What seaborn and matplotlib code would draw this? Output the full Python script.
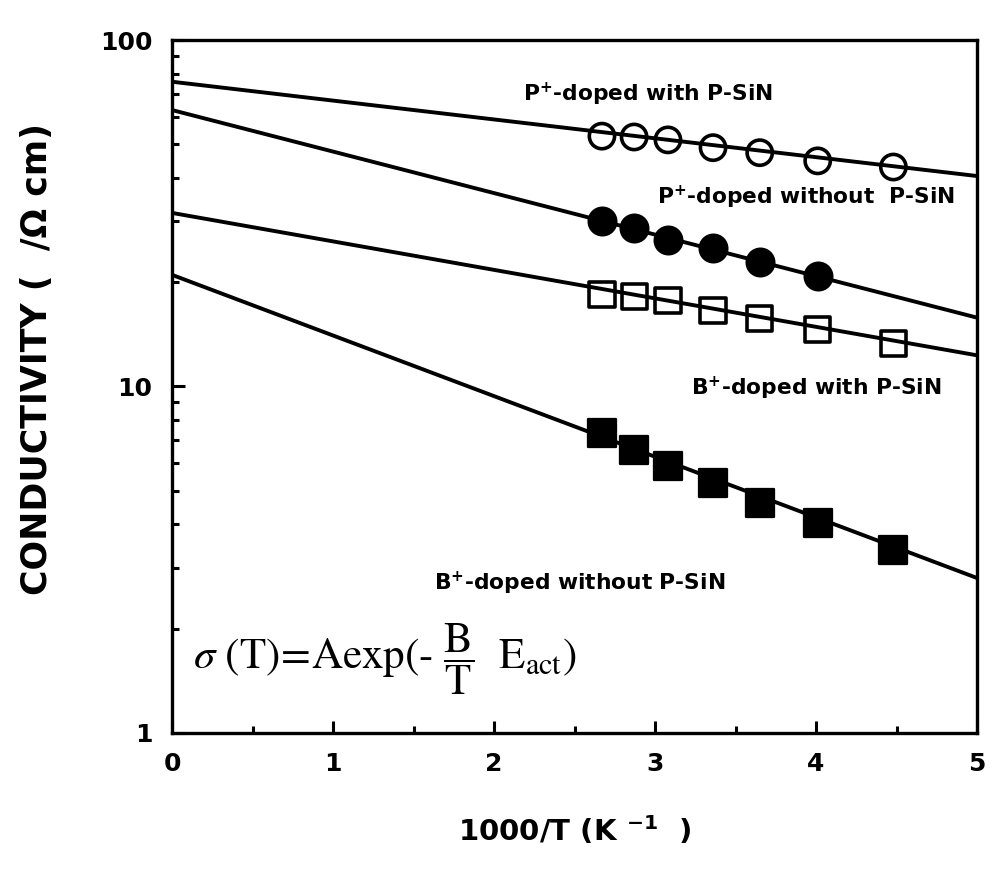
import numpy as np
import pandas as pd
import matplotlib
matplotlib.use('Agg')
import matplotlib.pyplot as plt
import seaborn as sns
from matplotlib.ticker import MultipleLocator, LogLocator, NullFormatter

# measured points (1000/T, conductivity)
inv_t = [2.67, 2.87, 3.08, 3.36, 3.65, 4.01, 4.48]
p_with = [52.8, 52.5, 51.5, 48.9, 47.3, 44.8, 43.0]
p_without = [30.1, 28.6, 26.5, 25.1, 22.8, 20.8]
b_with = [18.4, 18.2, 17.7, 16.6, 15.7, 14.6, 13.3]
b_without = [7.34, 6.56, 5.9, 5.27, 4.61, 4.04, 3.37]

# fitted lines, ends at 1000/T = 0 and 5
fit_x = [0, 5]
fit_p_with = [75.8, 40.5]
fit_p_without = [62.8, 15.8]
fit_b_with = [31.7, 12.3]
fit_b_without = [21.0, 2.8]

sns.set_style('ticks')
plt.rcParams['font.family'] = ['DejaVu Sans']
for k in ['text.color', 'axes.labelcolor', 'xtick.color', 'ytick.color', 'axes.edgecolor']:
    plt.rcParams[k] = 'black'

fig = plt.figure(figsize=(9.92, 8.82), dpi=100)
ax = fig.add_axes([0.1734, 0.169, 0.8116, 0.7856])

fits = pd.concat([
    pd.DataFrame({'x': fit_x, 'y': fit_p_with, 's': 'a'}),
    pd.DataFrame({'x': fit_x, 'y': fit_p_without, 's': 'b'}),
    pd.DataFrame({'x': fit_x, 'y': fit_b_with, 's': 'c'}),
    pd.DataFrame({'x': fit_x, 'y': fit_b_without, 's': 'd'}),
])
sns.lineplot(data=fits, x='x', y='y', units='s', estimator=None, color='black',
             linewidth=2.8, ax=ax, legend=False)

sns.scatterplot(x=inv_t, y=p_with, marker='o', s=330, facecolor='none',
                edgecolor='black', linewidth=2.6, ax=ax, zorder=3)
sns.scatterplot(x=inv_t[:len(p_without)], y=p_without, marker='o', s=400,
                color='black', edgecolor='black', ax=ax, zorder=3)
sns.scatterplot(x=inv_t, y=b_with, marker='s', s=330, facecolor='none',
                edgecolor='black', linewidth=2.6, ax=ax, zorder=3)
sns.scatterplot(x=inv_t, y=b_without, marker='s', s=420, color='black',
                edgecolor='black', ax=ax, zorder=3)

ax.set_yscale('log')
ax.set_xlim(0, 5)
ax.set_ylim(1, 100)

ax.xaxis.set_major_locator(MultipleLocator(1))
ax.xaxis.set_minor_locator(MultipleLocator(0.5))
ax.yaxis.set_minor_locator(LogLocator(base=10, subs=np.arange(2, 10)))
ax.yaxis.set_minor_formatter(NullFormatter())
ax.set_yticks([1, 10, 100])
ax.set_yticklabels(['1', '10', '100'])

ax.tick_params(which='both', direction='in', top=False, right=False, width=2.2,
               labelsize=18, pad=14)
ax.tick_params(which='major', length=9)
ax.tick_params(which='minor', length=5)
for lbl in ax.get_xticklabels() + ax.get_yticklabels():
    lbl.set_fontweight('bold')
for sp in ax.spines.values():
    sp.set_linewidth(2.4)
    sp.set_visible(True)

ax.set_xlabel(r'1000/T (K $^{\mathbf{-1}}$  )', fontsize=21, fontweight='bold', labelpad=27)
ax.set_ylabel('CONDUCTIVITY (  /Ω cm)', fontsize=25, fontweight='bold')
ax.yaxis.set_label_coords(-0.147, 0.54)

lab_kw = dict(fontsize=15.7, fontweight='bold', va='center', ha='left')
ax.text(2.18, 69.5, r'P$^{\mathbf{+}}$-doped with P-SiN', **lab_kw)
ax.text(3.01, 35.2, r'P$^{\mathbf{+}}$-doped without  P-SiN', **lab_kw)
ax.text(3.22, 9.9, r'B$^{\mathbf{+}}$-doped with P-SiN', **lab_kw)
ax.text(1.63, 2.7, r'B$^{\mathbf{+}}$-doped without P-SiN', **lab_kw)

ax.text(0.13, 1.63,
        r'$\sigma\ (\mathrm{T})\!=\!\mathrm{Aexp}(\text{-}\ \dfrac{\mathrm{B}}{\mathrm{T}}\ \ \mathrm{E}_{\mathrm{act}})$',
        fontsize=31, va='center', ha='left', math_fontfamily='stix')

fig.savefig('out.png', dpi=100)
